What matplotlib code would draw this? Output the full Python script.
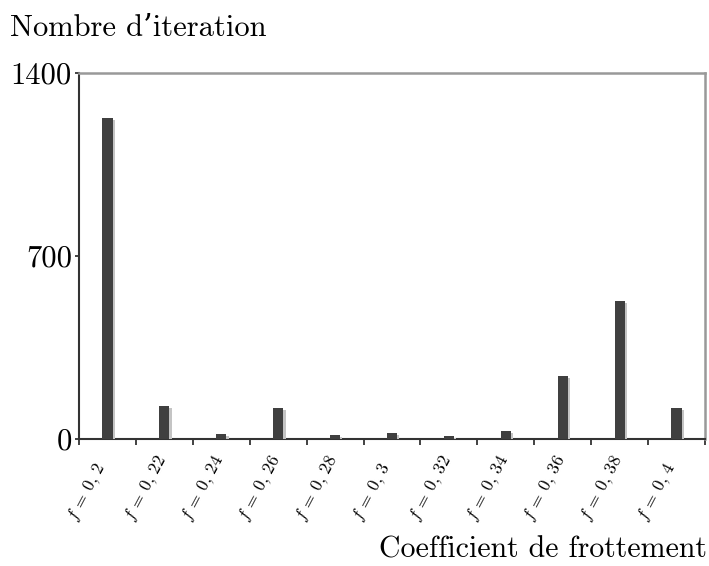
import matplotlib
matplotlib.use("Agg")
import matplotlib.pyplot as plt
import matplotlib.patheffects as pe
import matplotlib.transforms as mtransforms
import numpy as np

plt.rcParams["mathtext.fontset"] = "cm"
plt.rcParams["font.family"] = ["cmr10", "DejaVu Serif"]
plt.rcParams["axes.formatter.use_mathtext"] = True

# Friction coefficients and number of iterations
coefficients = ["0,2", "0,22", "0,24", "0,26", "0,28", "0,3",
                "0,32", "0,34", "0,36", "0,38", "0,4"]
iterations = [1226, 125, 18, 119, 15, 22, 11, 31, 241, 527, 119]
y_ticks = [0, 700, 1400]

fig = plt.figure(figsize=(7.09, 5.66), dpi=100)
ax = fig.add_axes([0.1114, 0.2244, 0.883, 0.6466])

x = np.arange(len(coefficients))
bars = ax.bar(x, iterations, width=0.18, color="#404040", zorder=3)
for b in bars:
    b.set_path_effects([
        pe.SimplePatchShadow(offset=(1.6, -1.4), shadow_rgbFace="#c4c4c4", alpha=1.0),
        pe.Normal(),
    ])

ax.set_xlim(-0.5, len(coefficients) - 0.5)
ax.set_ylim(0, 1400)

# tick marks at category boundaries
ax.set_xticks(np.arange(-0.5, len(coefficients)))
ax.set_xticklabels([])
ax.tick_params(axis="x", length=4, width=1.2, direction="out", color="#222222")

# rotated category labels, all starting on a common baseline below the axis
def coef_label(c):
    a, b = c.split(",")
    return r"$f\:=\:%s,\,%s$" % (a, b)

label_tr = ax.get_xaxis_transform() + mtransforms.ScaledTranslation(
    -0.26, -0.86, fig.dpi_scale_trans)
for xi, c in zip(x, coefficients):
    ax.text(xi, 0, coef_label(c), transform=label_tr, rotation=62,
            rotation_mode="anchor", ha="left", va="bottom", fontsize=12.5,
            clip_on=False)

ax.set_yticks(y_ticks)
ax.set_yticklabels([str(v) for v in y_ticks], fontsize=22)
ax.tick_params(axis="y", length=3, width=1.2, direction="out", color="#222222", pad=2)

for side in ("left", "bottom"):
    ax.spines[side].set_color("#333333")
    ax.spines[side].set_linewidth(1.5)
for side in ("top", "right"):
    ax.spines[side].set_color("#999999")
    ax.spines[side].set_linewidth(1.8)

fig.text(10 / 709, 1 - 28 / 566, "Nombre d\u2019iteration", fontsize=22,
         ha="left", va="center")
fig.text(707 / 709, 1 - 550 / 566, "Coefficient de frottement", fontsize=21.5,
         ha="right", va="center")

fig.savefig("out.png", dpi=100)
